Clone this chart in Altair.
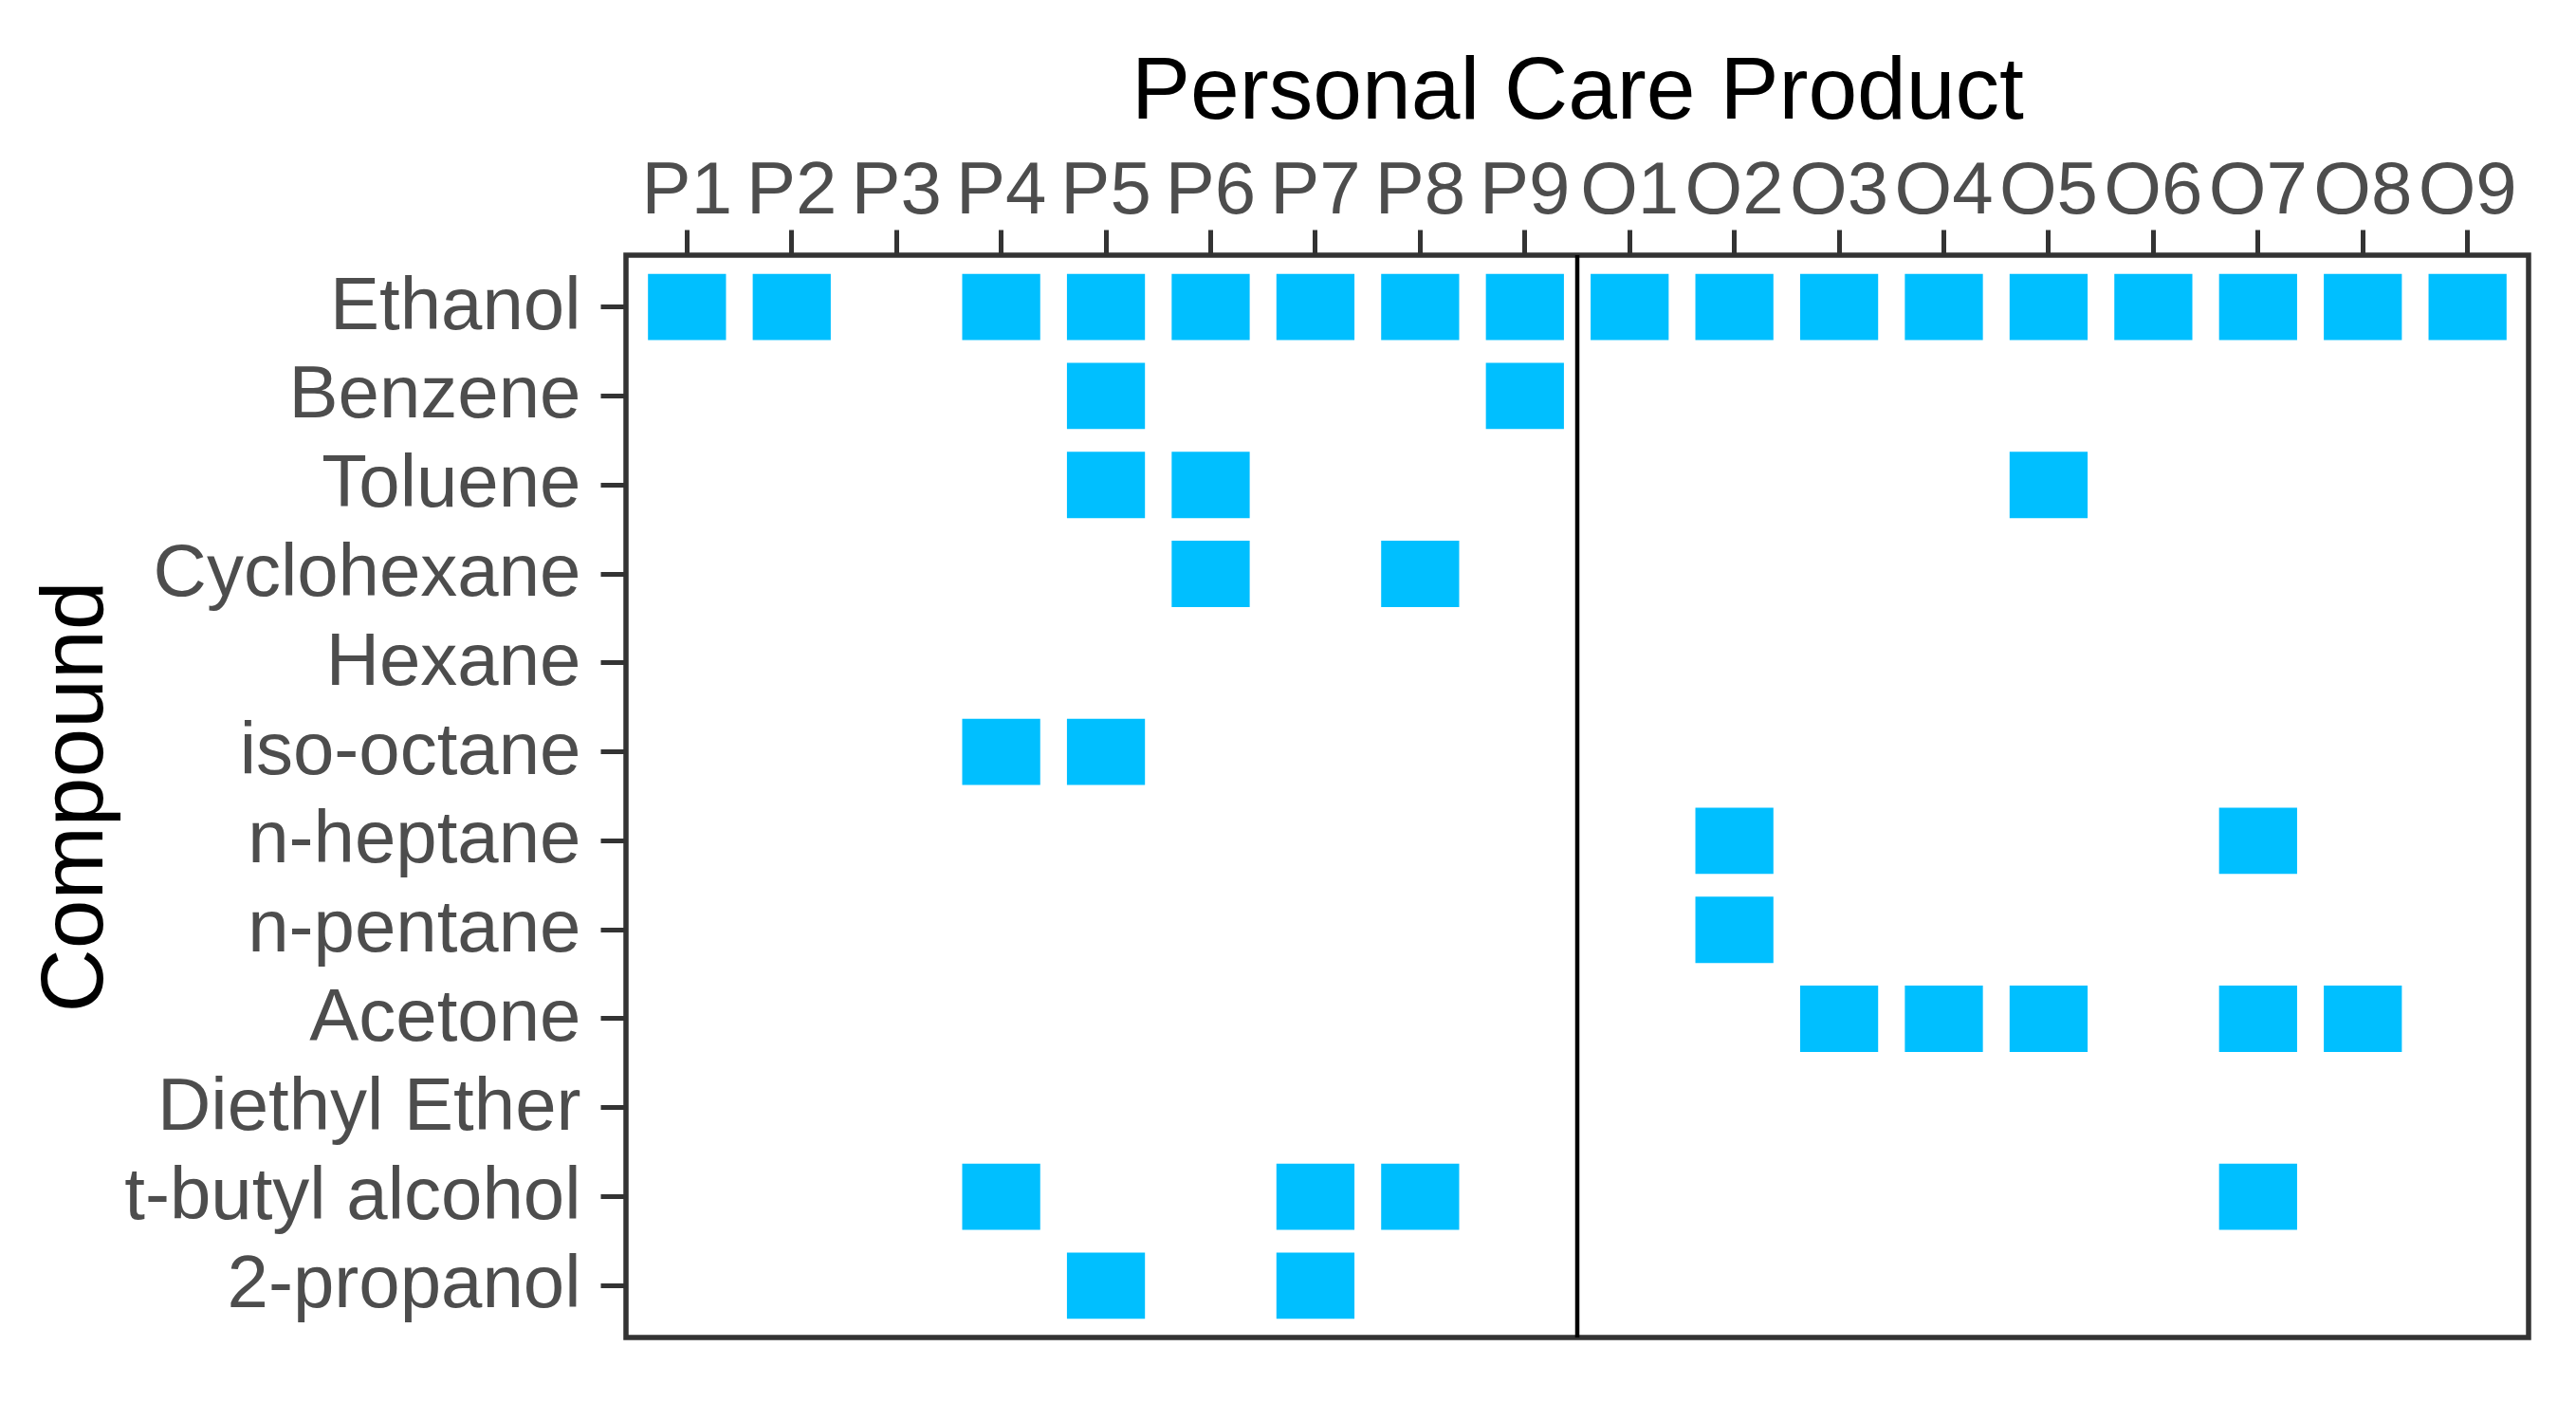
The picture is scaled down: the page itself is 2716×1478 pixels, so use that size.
import altair as alt
import pandas as pd

products = ["P1", "P2", "P3", "P4", "P5", "P6", "P7", "P8", "P9",
            "O1", "O2", "O3", "O4", "O5", "O6", "O7", "O8", "O9"]
compounds = ["Ethanol", "Benzene", "Toluene", "Cyclohexane", "Hexane", "iso-octane",
             "n-heptane", "n-pentane", "Acetone", "Diethyl Ether", "t-butyl alcohol", "2-propanol"]

detected = {
    "Ethanol": ["P1", "P2", "P4", "P5", "P6", "P7", "P8", "P9",
                "O1", "O2", "O3", "O4", "O5", "O6", "O7", "O8", "O9"],
    "Benzene": ["P5", "P9"],
    "Toluene": ["P5", "P6", "O5"],
    "Cyclohexane": ["P6", "P8"],
    "Hexane": [],
    "iso-octane": ["P4", "P5"],
    "n-heptane": ["O2", "O7"],
    "n-pentane": ["O2"],
    "Acetone": ["O3", "O4", "O5", "O7", "O8"],
    "Diethyl Ether": [],
    "t-butyl alcohol": ["P4", "P7", "P8", "O7"],
    "2-propanol": ["P5", "P7"],
}

rows = [{"Product": p, "Compound": c} for c in compounds for p in detected[c]]
df = pd.DataFrame(rows)
divider = pd.DataFrame({"Product": ["O1"]})

FONT = "Liberation Sans"
PI = 0.255
PO = 0.21
gap_ratio = PI / (2 * (1 - PI))
W, H = 2006, 1141

xscale = alt.Scale(domain=products, paddingInner=PI, paddingOuter=PO)
yscale = alt.Scale(domain=compounds, paddingInner=PI, paddingOuter=PO)

rects = alt.Chart(df).mark_rect(color="#00BFFF").encode(
    x=alt.X("Product:N", scale=xscale, sort=products,
            axis=alt.Axis(orient="top", title="Personal Care Product", labelAngle=0)),
    y=alt.Y("Compound:N", scale=yscale, sort=compounds,
            axis=alt.Axis(title="Compound", titleX=-553, titleY=H / 2,
                          titleAngle=270, titleAlign="center",
                          titleBaseline="alphabetic")),
)

rule = alt.Chart(divider).mark_rule(
    color="#000000", strokeWidth=4.5,
    xOffset=alt.ExprRef(expr=f"-bandwidth('x') * {gap_ratio}"),
).encode(
    x=alt.X("Product:N", scale=xscale, sort=products, bandPosition=0),
)

chart = alt.layer(rects, rule).properties(
    width=W,
    height=H,
    padding={"left": 652, "top": 261, "right": 40, "bottom": 40},
    autosize=alt.AutoSizeParams(type="none"),
).configure_view(
    stroke="#333333", strokeWidth=5.5, fill="white"
).configure_axis(
    domain=False,
    grid=False,
    ticks=True,
    tickColor="#333333",
    tickWidth=5,
    tickSize=27,
    labelFont=FONT,
    labelFontSize=78,
    labelColor="#4d4d4d",
    labelPadding=2,
    labelLimit=1000,
    titleFont=FONT,
    titleFontSize=93,
    titleFontWeight="normal",
    titleColor="#000000",
    titlePadding=18,
).configure_axisY(
    labelPadding=21,
)

chart.save("out.html", embed_options={"renderer": "svg", "actions": False})
